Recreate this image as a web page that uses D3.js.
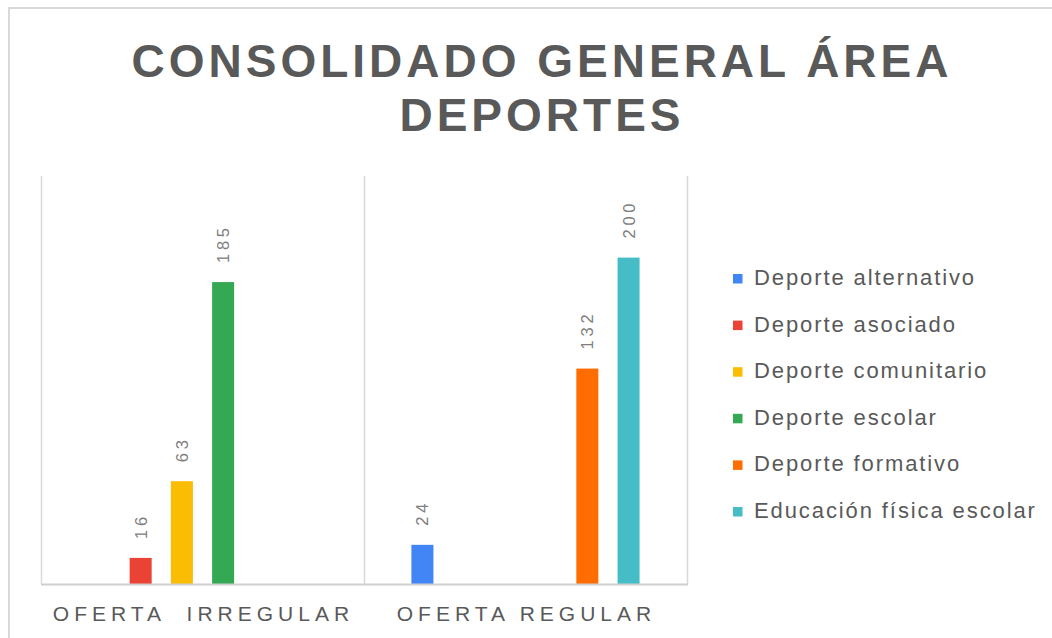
<!DOCTYPE html>
<html>
<head>
<meta charset="utf-8">
<script src="https://cdnjs.cloudflare.com/ajax/libs/d3/7.8.5/d3.min.js"></script>
<style>
  body { margin: 0; background: #fff; }
  svg { display: block; }
</style>
</head>
<body>
<div id="chart"></div>
<script>
// data
var categories = ["OFERTA  IRREGULAR", "OFERTA REGULAR"];
var seriesNames = ["Deporte alternativo", "Deporte asociado", "Deporte comunitario",
                   "Deporte escolar", "Deporte formativo", "Educación física escolar"];
var seriesColors = ["#4285F4", "#EA4335", "#FBBC04", "#34A853", "#FF6D01", "#46BDC6"];
// one value per category, null where the series has no bar
var seriesValues = [
  [null, 24],
  [16, null],
  [63, null],
  [185, null],
  [null, 132],
  [null, 200]
];
var titleLines = ["CONSOLIDADO GENERAL ÁREA", "DEPORTES"];

var width = 1052, height = 638;
var textGray = "#595959";
var gridGray = "#d9d9d9";

var svg = d3.select('#chart').append('svg')
  .attr('width', width)
  .attr('height', height);

// outer chart border (only top and left fall inside the picture)
svg.append('rect')
  .attr('x', 9).attr('y', 8)
  .attr('width', 1200).attr('height', 800)
  .style('fill', '#fff')
  .style('stroke', gridGray)
  .style('stroke-width', 2);

// title
svg.append('g').selectAll('text')
  .data(titleLines)
  .join('text')
  .attr('x', 542)
  .attr('y', function(d, i) { return 77 + i * 54; })
  .attr('text-anchor', 'middle')
  .style('font-family', '"Liberation Sans", Arial, sans-serif')
  .style('font-weight', 'bold')
  .style('font-size', '46px')
  .style('letter-spacing', '4px')
  .style('fill', textGray)
  .text(function(d) { return d; });

var plotLeft = 41, plotRight = 687, plotTop = 176, plotBottom = 584;

var x0 = d3.scaleBand()
  .domain(categories)
  .range([plotLeft, plotRight])
  .padding(0);

var x1 = d3.scaleBand()
  .domain(d3.range(seriesNames.length))
  .range([0, x0.bandwidth()])
  .paddingInner(0.466)
  .paddingOuter(1.15);

var y = d3.scaleLinear()
  .domain([0, 250])
  .range([plotBottom, plotTop]);

// vertical lines between categories
var bounds = categories.map(function(c) { return x0(c); }).concat([plotRight]);
svg.append('g').selectAll('line')
  .data(bounds)
  .join('line')
  .attr('x1', function(d) { return d + 0.5; })
  .attr('x2', function(d) { return d + 0.5; })
  .attr('y1', plotTop)
  .attr('y2', plotBottom)
  .style('stroke', gridGray)
  .style('stroke-width', 1.5);

// bars
var bars = [];
seriesValues.forEach(function(vals, s) {
  vals.forEach(function(v, c) {
    if (v != null) bars.push({s: s, c: categories[c], v: v});
  });
});

svg.append('g').selectAll('rect')
  .data(bars)
  .join('rect')
  .attr('x', function(d) { return x0(d.c) + x1(d.s); })
  .attr('y', function(d) { return y(d.v); })
  .attr('width', x1.bandwidth())
  .attr('height', function(d) { return y(0) - y(d.v); })
  .style('fill', function(d) { return seriesColors[d.s]; });

// value labels, rotated
svg.append('g').selectAll('text')
  .data(bars)
  .join('text')
  .attr('transform', function(d) {
    var cx = x0(d.c) + x1(d.s) + x1.bandwidth() / 2;
    return 'translate(' + cx + ',' + (y(d.v) - 19) + ') rotate(-90)';
  })
  .attr('text-anchor', 'start')
  .attr('dominant-baseline', 'central')
  .style('font-family', '"Liberation Sans", Arial, sans-serif')
  .style('font-size', '16.5px')
  .style('letter-spacing', '3.8px')
  .style('fill', '#808080')
  .text(function(d) { return d.v; });

// baseline
svg.append('line')
  .attr('x1', plotLeft).attr('x2', plotRight + 1)
  .attr('y1', plotBottom + 0.5).attr('y2', plotBottom + 0.5)
  .style('stroke', '#cfcfcf')
  .style('stroke-width', 2);

// category labels
svg.append('g').selectAll('text')
  .data(categories)
  .join('text')
  .attr('x', function(d) { return x0(d) + x0.bandwidth() / 2 + 1; })
  .attr('y', 621)
  .attr('text-anchor', 'middle')
  .style('white-space', 'pre')
  .style('font-family', '"Liberation Sans", Arial, sans-serif')
  .style('font-size', '21px')
  .style('letter-spacing', '5px')
  .style('fill', textGray)
  .text(function(d) { return d; });

// legend
var legend = svg.append('g').selectAll('g')
  .data(seriesNames)
  .join('g')
  .attr('transform', function(d, i) { return 'translate(733,' + (285 + i * 46.6) + ')'; });

legend.append('rect')
  .attr('x', 0).attr('y', -11)
  .attr('width', 9.5).attr('height', 9.5)
  .style('fill', function(d, i) { return seriesColors[i]; });

legend.append('text')
  .attr('x', 21).attr('y', 0)
  .style('font-family', '"Liberation Sans", Arial, sans-serif')
  .style('font-size', '22px')
  .style('letter-spacing', '1.9px')
  .style('fill', textGray)
  .text(function(d) { return d; });
</script>
</body>
</html>
